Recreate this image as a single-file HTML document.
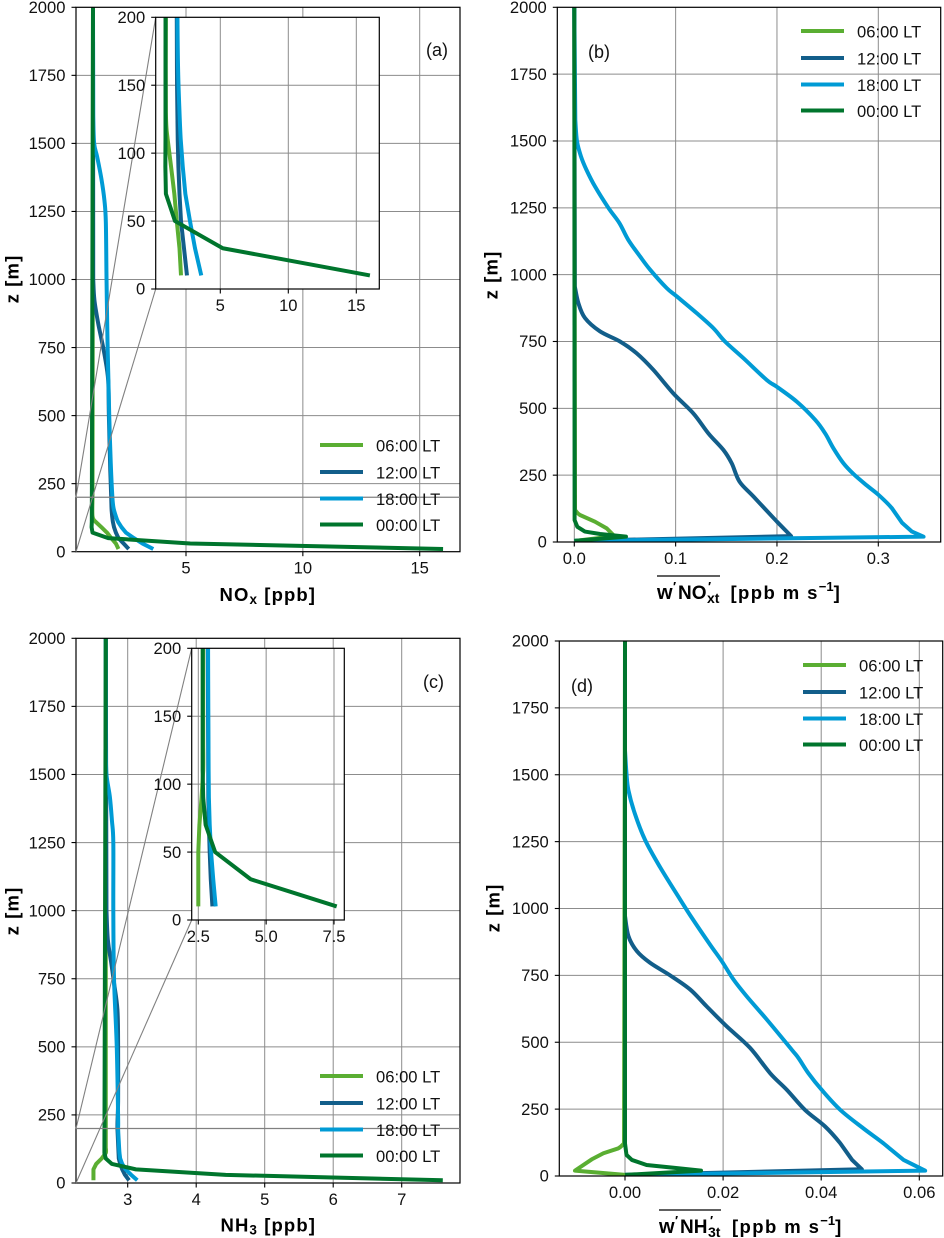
<!DOCTYPE html>
<html lang="en">
<head>
<meta charset="utf-8">
<title>Vertical profiles of NOx and NH3 concentrations and turbulent fluxes</title>
<style>
html,body{margin:0;padding:0;background:#fff;}
#figure{display:block;width:944px;height:1238px;font-family:"Liberation Sans",sans-serif;}
.axis-title{font-size:18.5px;font-weight:bold;fill:#000;letter-spacing:1.1px;}
</style>
</head>
<body>
<svg id="figure" xmlns="http://www.w3.org/2000/svg" width="944" height="1238" viewBox="0 0 944 1238">
  <rect x="0" y="0" width="944" height="1238" fill="#ffffff"/>
  <g id="plots"></g>

  <text class="axis-title" x="219.5" y="601">NO<tspan dy="3" font-size="13.5">x</tspan><tspan dy="-3"> [ppb]</tspan></text>
  <text class="axis-title" x="220.5" y="1231.5">NH<tspan dy="3" font-size="13.5">3</tspan><tspan dy="-3"> [ppb]</tspan></text>

  <line x1="657" x2="720" y1="576" y2="576" stroke="#000" stroke-width="1.2"/>
  <text class="axis-title" style="letter-spacing:0"><tspan x="657" y="599" font-size="20">w</tspan><tspan x="673" y="591" font-size="13">′</tspan><tspan x="678" y="599" font-size="19">NO</tspan><tspan x="708" y="591" font-size="13">′</tspan><tspan x="707" y="603" font-size="14">xt</tspan><tspan x="730.5" y="599" style="letter-spacing:1.4px">[ppb m s</tspan><tspan y="591" font-size="13">−1</tspan><tspan y="599">]</tspan></text>

  <line x1="659" x2="721" y1="1210" y2="1210" stroke="#000" stroke-width="1.2"/>
  <text class="axis-title" style="letter-spacing:0"><tspan x="659" y="1233" font-size="20">w</tspan><tspan x="675" y="1225" font-size="13">′</tspan><tspan x="680" y="1233" font-size="19">NH</tspan><tspan x="710" y="1225" font-size="13">′</tspan><tspan x="708" y="1237" font-size="14">3t</tspan><tspan x="732" y="1233" style="letter-spacing:1.4px">[ppb m s</tspan><tspan y="1225" font-size="13">−1</tspan><tspan y="1233">]</tspan></text>
</svg>

<script>
/* ---------- categories and ticks ---------- */
const seriesLabels = ['06:00 LT', '12:00 LT', '18:00 LT', '00:00 LT'];
const seriesColors = ['#5aae32', '#125e8a', '#009bd5', '#00752d'];
const mainZTicks = [0, 250, 500, 750, 1000, 1250, 1500, 1750, 2000];
const insetZTicks = [0, 50, 100, 150, 200];
const noxTicks = [5, 10, 15];
const noxInsetTicks = [5, 10, 15];
const noxFluxTicks = ['0.0', '0.1', '0.2', '0.3'];
const nh3Ticks = [3, 4, 5, 6, 7];
const nh3InsetTicks = ['2.5', '5.0', '7.5'];
const nh3FluxTicks = ['0.00', '0.02', '0.04', '0.06'];

/* ---------- panel (a) NOx concentration ---------- */
const noxZ06 = [10, 30, 50, 70, 90, 110, 130, 200, 2000];
const noxV06 = [2.11, 2.0, 1.8, 1.62, 1.38, 1.13, 1.0, 1.0, 1.02];
const noxZ12 = [10, 30, 50, 70, 90, 110, 150, 200, 300, 500, 630, 716, 778, 840, 925, 1000, 2000];
const noxV12 = [2.55, 2.33, 2.11, 2.0, 1.92, 1.87, 1.82, 1.8, 1.76, 1.70, 1.67, 1.53, 1.39, 1.24, 1.08, 1.03, 1.02];
const noxZ18 = [10, 30, 50, 70, 90, 110, 130, 160, 200, 325, 484, 630, 778, 998, 1210, 1290, 1370, 1450, 1500, 1600, 2000];
const noxV18 = [3.6, 3.14, 2.77, 2.43, 2.24, 2.09, 2.0, 1.9, 1.85, 1.78, 1.72, 1.68, 1.64, 1.60, 1.57, 1.51, 1.38, 1.2, 1.07, 1.03, 1.02];
const noxZ00 = [10, 30, 50, 70, 90, 110, 2000];
const noxV00 = [16.0, 5.18, 1.67, 1.0, 0.96, 0.97, 1.02];

/* ---------- panel (b) NOx flux ---------- */
const noxFluxZ06 = [4, 20, 26, 51, 76, 101, 120, 2000];
const noxFluxV06 = [0, 0.036, 0.0385, 0.032, 0.0204, 0.0056, 0.0007, 0];
const noxFluxZ12 = [4, 22, 76, 170, 226, 294, 344, 406, 481, 556, 644, 706, 750, 788, 838, 894, 956, 2000];
const noxFluxV12 = [0, 0.214, 0.2, 0.1768, 0.163, 0.1554, 0.1472, 0.1324, 0.1175, 0.0977, 0.078, 0.0615, 0.0451, 0.0253, 0.0105, 0.004, 0.0005, 0];
const noxFluxZ18 = [4, 20, 39, 72, 126, 176, 211, 254, 294, 350, 406, 457, 525, 581, 606, 688, 750, 800, 856, 919, 950, 1019, 1068, 1130, 1193, 1250, 1330, 1392, 1442, 1500, 1579, 2000];
const noxFluxV18 = [0, 0.3447, 0.3332, 0.3234, 0.3135, 0.3003, 0.2888, 0.2756, 0.2657, 0.2558, 0.2476, 0.2377, 0.2195, 0.1997, 0.1899, 0.1668, 0.1487, 0.1372, 0.1208, 0.101, 0.0911, 0.0747, 0.0649, 0.0533, 0.0445, 0.0336, 0.0204, 0.012, 0.0066, 0.0026, 0.001, 0];
const noxFluxZ00 = [4, 20, 30, 39, 57, 82, 2000];
const noxFluxV00 = [0, 0.051, 0.0254, 0.0105, 0.003, 0.0003, 0];

/* ---------- panel (c) NH3 concentration ---------- */
const nh3Z06 = [10, 30, 50, 70, 90, 110, 130, 2000];
const nh3V06 = [2.5, 2.5, 2.5, 2.54, 2.62, 2.68, 2.68, 2.68];
const nh3Z12 = [10, 30, 50, 70, 90, 200, 300, 503, 636, 735, 808, 893, 1000, 2000];
const nh3V12 = [3.02, 2.96, 2.92, 2.89, 2.87, 2.85, 2.86, 2.86, 2.85, 2.80, 2.76, 2.71, 2.69, 2.68];
const nh3Z18 = [10, 30, 50, 70, 90, 110, 150, 200, 243, 503, 753, 1003, 1250, 1330, 1417, 1500, 1600, 2000];
const nh3V18 = [3.14, 3.05, 2.97, 2.92, 2.89, 2.88, 2.87, 2.86, 2.86, 2.84, 2.80, 2.79, 2.79, 2.77, 2.74, 2.69, 2.68, 2.68];
const nh3Z00 = [10, 30, 50, 70, 90, 110, 2000];
const nh3V00 = [7.6, 4.43, 3.12, 2.77, 2.68, 2.66, 2.68];

/* ---------- panel (d) NH3 flux ---------- */
const nh3FluxZ06 = [4, 20, 62, 85, 103, 122, 2000];
const nh3FluxV06 = [0, -0.0102, -0.0068, -0.0044, -0.0014, -0.0002, 0];
const nh3FluxZ12 = [4, 25, 60, 122, 185, 247, 322, 384, 479, 560, 635, 697, 750, 797, 841, 897, 972, 2000];
const nh3FluxV12 = [0, 0.0483, 0.0463, 0.0439, 0.0408, 0.0367, 0.033, 0.0296, 0.0255, 0.0207, 0.0166, 0.0133, 0.0092, 0.0051, 0.0024, 0.0007, 0, 0];
const nh3FluxZ18 = [4, 20, 60, 122, 178, 247, 322, 384, 440, 472, 585, 672, 735, 804, 866, 966, 1035, 1156, 1256, 1355, 1442, 1505, 1592, 2000];
const nh3FluxV18 = [0, 0.0612, 0.0568, 0.0527, 0.0486, 0.0439, 0.0401, 0.0374, 0.0354, 0.034, 0.0289, 0.0248, 0.0221, 0.0197, 0.0173, 0.0136, 0.0112, 0.0071, 0.0041, 0.002, 0.0007, 0.0003, 0, 0];
const nh3FluxZ00 = [4, 20, 31, 41, 60, 79, 122, 2000];
const nh3FluxV00 = [0, 0.0155, 0.0099, 0.0044, 0.0014, 0.0003, 0, 0];

const NS = 'http://www.w3.org/2000/svg';
const plotsRoot = document.getElementById('plots');
const GRID = '#8c8c8c';
const INDICATOR = '#808080';
const MAX_SMOOTH_GAP = 300;

function makeEl(tag, parent, name) {
  const el = document.createElementNS(NS, tag);
  
  
  parent.appendChild(el);
  return el;
}
function drawLine(parent, name, x1, y1, x2, y2, color, width) {
  const el = makeEl('line', parent, name);
  el.setAttribute('x1', x1);
  el.setAttribute('y1', y1);
  el.setAttribute('x2', x2);
  el.setAttribute('y2', y2);
  el.setAttribute('stroke', color);
  el.setAttribute('stroke-width', width);
  return el;
}
function drawText(parent, name, x, y, str, anchor, size) {
  const el = makeEl('text', parent, name);
  el.setAttribute('x', x);
  el.setAttribute('y', y);
  el.setAttribute('font-size', size || '16.6');
  el.setAttribute('fill', '#111');
  el.setAttribute('text-anchor', anchor);
  el.textContent = str;
  return el;
}
function linearScale(v0, p0, v1, p1) {
  return function (v) { return p0 + (v - v0) * (p1 - p0) / (v1 - v0); };
}
/* Straight segments near the ground (sharp kinks), Catmull-Rom above it.
   A neighbour across a long gap is ignored so the curve cannot overshoot. */
function profilePath(z, v, xs, zs) {
  const px = v.map(function (d) { return xs(d); });
  const py = z.map(function (d) { return zs(d); });
  let d = 'M' + px[0].toFixed(2) + ' ' + py[0].toFixed(2);
  for (let i = 0; i < z.length - 1; i++) {
    const smooth = z[i] >= 100 && z[i + 1] - z[i] <= MAX_SMOOTH_GAP;
    if (!smooth) {
      d += 'L' + px[i + 1].toFixed(2) + ' ' + py[i + 1].toFixed(2);
      continue;
    }
    let a = i;
    if (i > 0 && z[i] - z[i - 1] <= MAX_SMOOTH_GAP) { a = i - 1; }
    let b = i + 1;
    if (i + 2 < z.length && z[i + 2] - z[i + 1] <= MAX_SMOOTH_GAP) { b = i + 2; }
    const c1x = px[i] + (px[i + 1] - px[a]) / 6;
    const c1y = py[i] + (py[i + 1] - py[a]) / 6;
    const c2x = px[i + 1] - (px[b] - px[i]) / 6;
    const c2y = py[i + 1] - (py[b] - py[i]) / 6;
    d += 'C' + c1x.toFixed(2) + ' ' + c1y.toFixed(2) + ' ' + c2x.toFixed(2) + ' ' + c2y.toFixed(2) + ' ' + px[i + 1].toFixed(2) + ' ' + py[i + 1].toFixed(2);
  }
  return d;
}

let clipCounter = 0;
function drawAxes(prefix, box, xAxis, zMax, zTicks, xTicks, series) {
  const g = makeEl('g', plotsRoot, prefix + '-axes');
  const xs = linearScale(xAxis.v0, xAxis.p0, xAxis.v1, xAxis.p1);
  const zs = linearScale(0, box.bottom, zMax, box.top);

  const bg = makeEl('rect', g, prefix + '-plot-area');
  bg.setAttribute('x', box.left);
  bg.setAttribute('y', box.top);
  bg.setAttribute('width', box.right - box.left);
  bg.setAttribute('height', box.bottom - box.top);
  bg.setAttribute('fill', '#ffffff');

  zTicks.forEach(function (t) {
    const y = zs(t);
    if (t !== 0 && t !== zMax) {
      drawLine(g, prefix + '-grid-z-' + t, box.left, y, box.right, y, GRID, 1);
    }
    drawLine(g, prefix + '-tick-z-' + t, box.left - 4.5, y, box.left, y, '#000', 1.1);
    drawText(g, prefix + '-tick-label-z-' + t, box.left - 10.5, y + 5.7, String(t), 'end');
  });
  xTicks.forEach(function (t) {
    const x = xs(parseFloat(t));
    drawLine(g, prefix + '-grid-x-' + t, x, box.top, x, box.bottom, GRID, 1);
    drawLine(g, prefix + '-tick-x-' + t, x, box.bottom, x, box.bottom + 4.5, '#000', 1.1);
    drawText(g, prefix + '-tick-label-x-' + t, x, box.bottom + 22, String(t), 'middle');
  });

  clipCounter += 1;
  const clipId = 'clip-' + clipCounter;
  const clip = makeEl('clipPath', g, prefix + '-clip');
  clip.setAttribute('id', clipId);
  const clipRect = makeEl('rect', clip, prefix + '-clip-rect');
  clipRect.setAttribute('x', box.left);
  clipRect.setAttribute('y', box.top);
  clipRect.setAttribute('width', box.right - box.left);
  clipRect.setAttribute('height', box.bottom - box.top);

  const marks = makeEl('g', g, prefix + '-series');
  marks.setAttribute('clip-path', 'url(#' + clipId + ')');
  series.forEach(function (s, i) {
    const line = makeEl('path', marks, prefix + '-line-' + seriesLabels[i].slice(0, 2) + 'h');
    line.setAttribute('d', profilePath(s.z, s.v, xs, zs));
    line.setAttribute('fill', 'none');
    line.setAttribute('stroke', seriesColors[i]);
    line.setAttribute('stroke-width', '4');
    line.setAttribute('stroke-linejoin', 'round');
  });

  return { g: g, xs: xs, zs: zs, box: box };
}
function drawFrame(ax, prefix) {
  const frame = makeEl('rect', ax.g, prefix + '-frame');
  frame.setAttribute('x', ax.box.left);
  frame.setAttribute('y', ax.box.top);
  frame.setAttribute('width', ax.box.right - ax.box.left);
  frame.setAttribute('height', ax.box.bottom - ax.box.top);
  frame.setAttribute('fill', 'none');
  frame.setAttribute('stroke', '#000');
  frame.setAttribute('stroke-width', '1.2');
}
function drawLegend(prefix, swatchLeft, firstY, ys) {
  const g = makeEl('g', plotsRoot, prefix + '-legend');
  seriesLabels.forEach(function (label, i) {
    const entry = makeEl('g', g, prefix + '-legend-entry-' + label.slice(0, 2));
    const y = firstY + ys[i];
    drawLine(entry, prefix + '-legend-swatch-' + label.slice(0, 2), swatchLeft, y, swatchLeft + 43, y, seriesColors[i], 4);
    drawText(entry, prefix + '-legend-label-' + label.slice(0, 2), swatchLeft + 56, y + 6.5, label, 'start');
  });
}
function drawZTitle(prefix, x, y) {
  const el = makeEl('text', plotsRoot, prefix + '-y-axis-title');
  el.setAttribute('transform', 'translate(' + x + ',' + y + ') rotate(-90)');
  el.setAttribute('text-anchor', 'middle');
  el.setAttribute('class', 'axis-title');
  el.textContent = 'z [m]';
}
function drawPanelTag(prefix, x, y, str) {
  drawText(plotsRoot, prefix + '-tag', x, y, str, 'start', '18');
}
function drawIndicator(prefix, main, inset, zTop) {
  const g = makeEl('g', plotsRoot, prefix + '-inset-indicator');
  const yTop = main.zs(zTop);
  const yBot = main.zs(0);
  drawLine(g, prefix + '-inset-region-top', main.box.left, yTop, main.box.right, yTop, INDICATOR, 1.3);
  drawLine(g, prefix + '-inset-connector-top', main.box.left, yTop, inset.left, inset.top, INDICATOR, 1.1);
  drawLine(g, prefix + '-inset-connector-bottom', main.box.left, yBot, inset.left, inset.bottom, INDICATOR, 1.1);
}
function bundle(z06, v06, z12, v12, z18, v18, z00, v00) {
  return [{ z: z06, v: v06 }, { z: z12, v: v12 }, { z: z18, v: v18 }, { z: z00, v: v00 }];
}
const legendSteps = [0, 27, 53.5, 79.5];

/* panel a */
const noxSeries = bundle(noxZ06, noxV06, noxZ12, noxV12, noxZ18, noxV18, noxZ00, noxV00);
const axA = drawAxes('panel-a', { left: 76, right: 460, top: 7.3, bottom: 551.7 }, { v0: 5, p0: 186, v1: 15, p1: 419.7 }, 2000, mainZTicks, noxTicks, noxSeries);
drawFrame(axA, 'panel-a');
const insetBoxA = { left: 155.7, right: 379.3, top: 17.3, bottom: 289 };
drawIndicator('panel-a', axA, insetBoxA, 200);
const insA = drawAxes('panel-a-inset', insetBoxA, { v0: 5, p0: 220.3, v1: 15, p1: 356.3 }, 200, insetZTicks, noxInsetTicks, noxSeries);
drawFrame(insA, 'panel-a-inset');
drawLegend('panel-a', 320, 445, legendSteps);
drawZTitle('panel-a', 18.5, 279);
drawPanelTag('panel-a', 426, 56, '(a)');

/* panel b */
const noxFluxSeries = bundle(noxFluxZ06, noxFluxV06, noxFluxZ12, noxFluxV12, noxFluxZ18, noxFluxV18, noxFluxZ00, noxFluxV00);
const axB = drawAxes('panel-b', { left: 557.3, right: 940.7, top: 7.3, bottom: 542 }, { v0: 0, p0: 574.3, v1: 0.3, p1: 878.3 }, 2000, mainZTicks, noxFluxTicks, noxFluxSeries);
drawFrame(axB, 'panel-b');
drawLegend('panel-b', 801, 31, legendSteps);
drawZTitle('panel-b', 497.5, 275);
drawPanelTag('panel-b', 588, 58, '(b)');

/* panel c */
const nh3Series = bundle(nh3Z06, nh3V06, nh3Z12, nh3V12, nh3Z18, nh3V18, nh3Z00, nh3V00);
const axC = drawAxes('panel-c', { left: 76, right: 460, top: 638.3, bottom: 1183 }, { v0: 3, p0: 127.7, v1: 7, p1: 401.7 }, 2000, mainZTicks, nh3Ticks, nh3Series);
drawFrame(axC, 'panel-c');
const insetBoxC = { left: 191.7, right: 344.3, top: 648.3, bottom: 920 };
drawIndicator('panel-c', axC, insetBoxC, 200);
const insC = drawAxes('panel-c-inset', insetBoxC, { v0: 2.5, p0: 198.3, v1: 7.5, p1: 334 }, 200, insetZTicks, nh3InsetTicks, nh3Series);
drawFrame(insC, 'panel-c-inset');
drawLegend('panel-c', 320, 1076, legendSteps);
drawZTitle('panel-c', 18.5, 911);
drawPanelTag('panel-c', 423, 688, '(c)');

/* panel d */
const nh3FluxSeries = bundle(nh3FluxZ06, nh3FluxV06, nh3FluxZ12, nh3FluxV12, nh3FluxZ18, nh3FluxV18, nh3FluxZ00, nh3FluxV00);
const axD = drawAxes('panel-d', { left: 559.3, right: 942.7, top: 641, bottom: 1176 }, { v0: 0, p0: 625, v1: 0.06, p1: 919.3 }, 2000, mainZTicks, nh3FluxTicks, nh3FluxSeries);
drawFrame(axD, 'panel-d');
drawLegend('panel-d', 803, 665, legendSteps);
drawZTitle('panel-d', 499.5, 908);
drawPanelTag('panel-d', 571, 692, '(d)');
</script>
</body>
</html>
